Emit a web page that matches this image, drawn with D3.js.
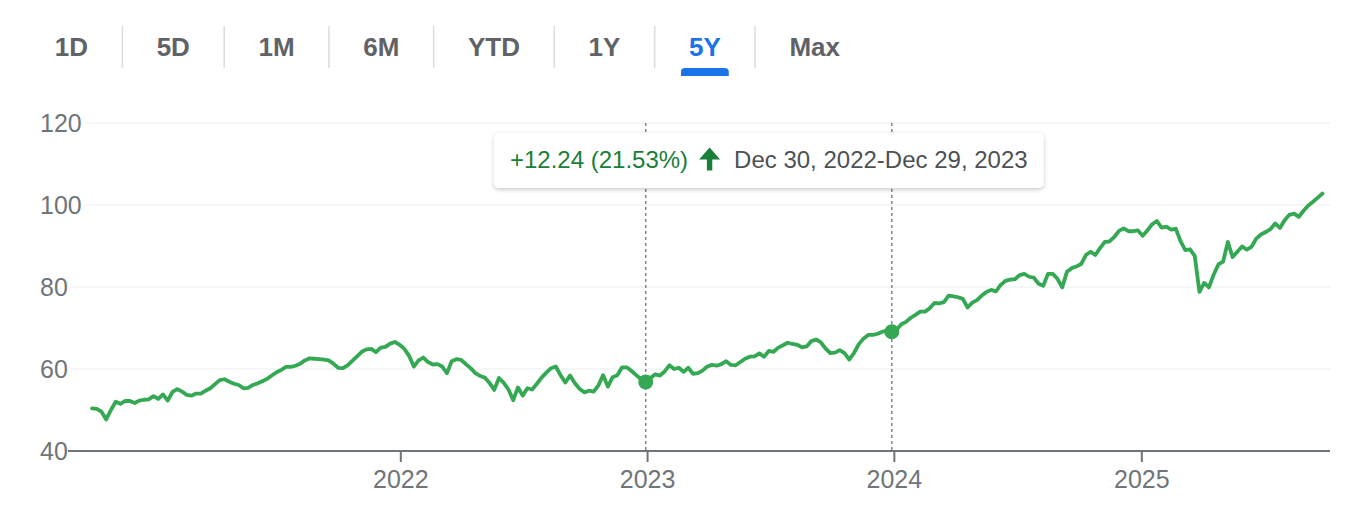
<!DOCTYPE html>
<html>
<head>
<meta charset="utf-8">
<script src="https://cdn.jsdelivr.net/npm/d3@7"></script>
<style>
  body { margin: 0; background: #fff; }
  svg { display: block; font-family: Arial, "Liberation Sans", sans-serif; }
</style>
</head>
<body>
<div id="chart"></div>
<script>
// range tabs
var tabs = ["1D", "5D", "1M", "6M", "YTD", "1Y", "5Y", "Max"];
var activeTab = "5Y";

// axes
var yTicks = [40, 60, 80, 100, 120];
var xTickYears = [2022, 2023, 2024, 2025];

// weekly closes (Fridays), first one on this date
var firstClose = "2020-10-02";
var weeklyClose = [
  50.4, 50.3, 49.6, 47.7, 50.0, 52.0, 51.5, 52.2, 52.2, 51.7,
  52.3, 52.5, 52.6, 53.4, 52.7, 53.8, 52.3, 54.4, 55.1, 54.5,
  53.7, 53.5, 54.0, 54.0, 54.7, 55.3, 56.3, 57.3, 57.5, 56.9,
  56.4, 56.1, 55.3, 55.4, 56.1, 56.5, 57.0, 57.6, 58.4, 59.2,
  59.8, 60.5, 60.5, 60.8, 61.3, 62.1, 62.6, 62.5, 62.4, 62.3,
  62.1, 61.3, 60.3, 60.2, 60.9, 62.0, 63.1, 64.2, 64.8, 64.9,
  64.1, 65.2, 65.4, 66.2, 66.6, 65.9, 64.9, 63.2, 60.6, 62.1,
  62.8, 61.7, 61.1, 61.2, 60.6, 59.0, 61.9, 62.4, 62.2, 61.2,
  60.2, 59.0, 58.3, 57.9, 56.6, 54.9, 57.8, 56.6, 55.0, 52.4,
  55.5, 53.5, 55.3, 55.0, 56.4, 57.9, 59.1, 60.2, 60.6, 58.5,
  56.7, 58.4, 56.6, 55.2, 54.3, 54.7, 54.5, 56.0, 58.5, 55.7,
  58.0, 58.5, 60.4, 60.4, 59.5, 58.5, 57.5, 56.85, 57.8, 58.7,
  58.4, 59.4, 60.9, 60.0, 60.3, 59.3, 60.3, 58.8, 59.0, 59.6,
  60.6, 61.0, 60.8, 61.2, 61.9, 61.0, 60.9, 61.7, 62.5, 63.0,
  63.1, 63.8, 63.0, 64.4, 64.2, 65.2, 65.8, 66.4, 66.1, 65.9,
  65.3, 65.5, 66.8, 67.2, 66.5, 65.0, 63.9, 64.0, 64.6, 63.9,
  62.3, 63.9, 66.0, 67.4, 68.3, 68.3, 68.6, 69.1, 69.3, 69.09,
  69.6, 70.9, 71.5, 72.5, 73.2, 74.0, 74.0, 74.8, 76.1, 76.0,
  76.3, 77.9, 77.7, 77.5, 77.1, 75.0, 76.2, 76.8, 77.9, 78.8,
  79.3, 78.9, 80.5, 81.5, 81.8, 81.9, 82.9, 83.2, 82.5, 82.3,
  80.8, 80.3, 83.2, 83.2, 82.0, 79.9, 83.7, 84.6, 85.0, 85.6,
  87.8, 88.6, 87.8, 89.5, 91.0, 91.1, 92.2, 93.7, 94.3, 93.6,
  93.6, 93.8, 92.5, 93.8, 95.3, 96.1, 94.5, 94.7, 94.0, 94.2,
  91.2, 89.0, 89.2, 87.6, 78.8, 81.0, 79.9, 83.0, 85.5, 86.2,
  91.0, 87.3, 88.6, 89.9, 89.1, 89.8, 91.8, 92.8, 93.4, 94.1,
  95.5, 94.4, 96.3, 97.6, 97.9, 97.1, 98.6, 99.9, 100.8, 101.8, 102.8
];

// selected range shown in the tooltip
var rangeStart = "2022-12-30";
var rangeEnd = "2023-12-29";
var rangeChange = "+12.24 (21.53%)";
var rangeLabel = "Dec 30, 2022-Dec 29, 2023";

var W = 1357, H = 505;
var green = "#34a853";

var parse = d3.utcParse("%Y-%m-%d");
var t0 = parse(firstClose);
var data = weeklyClose.map(function(v, i) { return { date: d3.utcWeek.offset(t0, i), value: v }; });

var svg = d3.select("#chart").append("svg").attr("width", W).attr("height", H);

var defs = svg.append("defs");
var shadow = defs.append("filter").attr("id", "shadow")
  .attr("x", "-5%").attr("y", "-30%").attr("width", "110%").attr("height", "170%");
shadow.append("feDropShadow").attr("dx", 0).attr("dy", 1.5).attr("stdDeviation", 2.2)
  .attr("flood-color", "#000").attr("flood-opacity", 0.22);

// ---- tabs ----
var gTabs = svg.append("g");
var tabPad = 34.3, cursor = 20.5;
tabs.forEach(function(name, i) {
  var t = gTabs.append("text").text(name)
    .attr("y", 47).attr("dominant-baseline", "central")
    .attr("text-anchor", "middle")
    .style("font-size", "26px").style("font-weight", "bold")
    .attr("fill", name === activeTab ? "#1a73e8" : "#5f6368");
  var w = t.node().getComputedTextLength();
  var cx = cursor + tabPad + w / 2;
  t.attr("x", cx);
  if (name === activeTab) {
    var uw = w + 16, ux = cx - uw / 2;
    gTabs.append("path")
      .attr("d", "M" + ux + ",76 L" + ux + ",72 Q" + ux + ",68 " + (ux + 4) + ",68 L" + (ux + uw - 4) + ",68 Q" + (ux + uw) + ",68 " + (ux + uw) + ",72 L" + (ux + uw) + ",76 Z")
      .attr("fill", "#1a73e8");
  }
  cursor += w + 2 * tabPad;
  if (i < tabs.length - 1) {
    gTabs.append("line").attr("x1", cursor).attr("x2", cursor).attr("y1", 26).attr("y2", 68)
      .attr("stroke", "#dadce0").attr("stroke-width", 1.5);
  }
});

// ---- scales ----
var plotRight = 1330;
var x = d3.scaleUtc()
  .domain(d3.extent(data, function(d) { return d.date; }))
  .range([92, 1322.5]);
var y = d3.scaleLinear().domain([40, 120]).range([451, 123]);

// ---- y labels and grid ----
var gY = svg.append("g");
yTicks.forEach(function(v) {
  var t = gY.append("text").text(v)
    .attr("x", 40).attr("y", y(v)).attr("dominant-baseline", "central")
    .style("font-size", "25px").attr("fill", "#70757a");
  var w = t.node().getComputedTextLength();
  if (v !== 40) {
    gY.insert("line", "text").attr("x1", 40 + w + 3).attr("x2", plotRight)
      .attr("y1", y(v)).attr("y2", y(v))
      .attr("stroke", "#f1f3f4").attr("stroke-width", 1.5);
  }
});

// ---- range markers (dashed) ----
var dStart = parse(rangeStart), dEnd = parse(rangeEnd);
var pStart = data.find(function(d) { return +d.date === +dStart; });
var pEnd = data.find(function(d) { return +d.date === +dEnd; });
svg.selectAll(".rangeLine").data([pStart, pEnd]).enter().append("line")
  .attr("class", "rangeLine")
  .attr("x1", function(d) { return x(d.date); }).attr("x2", function(d) { return x(d.date); })
  .attr("y1", y(120)).attr("y2", y(40))
  .attr("stroke", "#80868b").attr("stroke-width", 1.5).attr("stroke-dasharray", "3,3");

// ---- x axis ----
svg.append("line").attr("x1", 68).attr("x2", plotRight).attr("y1", y(40)).attr("y2", y(40))
  .attr("stroke", "#70757a").attr("stroke-width", 2);
var xAxis = d3.axisBottom(x)
  .tickValues(xTickYears.map(function(yr) { return new Date(Date.UTC(yr, 0, 1)); }))
  .tickFormat(d3.utcFormat("%Y"))
  .tickSize(11).tickSizeOuter(0).tickPadding(8);
var gX = svg.append("g").attr("transform", "translate(0," + y(40) + ")").call(xAxis);
gX.select(".domain").remove();
gX.selectAll(".tick line").attr("stroke", "#70757a").attr("stroke-width", 2);
gX.selectAll(".tick text").attr("fill", "#70757a")
  .style("font-size", "25px").style("font-family", "Arial, 'Liberation Sans', sans-serif");

// ---- price line ----
var line = d3.line()
  .x(function(d) { return x(d.date); })
  .y(function(d) { return y(d.value); });
svg.append("path").datum(data)
  .attr("d", line)
  .attr("fill", "none").attr("stroke", green).attr("stroke-width", 3.8)
  .attr("stroke-linejoin", "round").attr("stroke-linecap", "round");

svg.selectAll(".dot").data([pStart, pEnd]).enter().append("circle")
  .attr("class", "dot")
  .attr("cx", function(d) { return x(d.date); })
  .attr("cy", function(d) { return y(d.value); })
  .attr("r", 7.5).attr("fill", green);

// ---- tooltip ----
var tip = svg.append("g");
var box = tip.append("rect").attr("rx", 5).attr("fill", "#fff").attr("filter", "url(#shadow)");
var tChange = tip.append("text").text(rangeChange)
  .attr("y", 0).attr("dominant-baseline", "central")
  .style("font-size", "24px").attr("fill", "#188038");
var wChange = tChange.node().getComputedTextLength();
var arrowX = wChange + 11;
var arrow = tip.append("path")
  .attr("d", "M" + (arrowX + 10.5) + ",-12 L" + (arrowX + 21) + ",0 L" + (arrowX + 13.2) + ",0 L" + (arrowX + 13.2) + ",11 L" + (arrowX + 7.8) + ",11 L" + (arrowX + 7.8) + ",0 L" + arrowX + ",0 Z")
  .attr("fill", "#188038");
var tDate = tip.append("text").text(rangeLabel)
  .attr("x", arrowX + 35).attr("y", 0).attr("dominant-baseline", "central")
  .style("font-size", "24px").attr("fill", "#4d5156");
var contentW = arrowX + 35 + tDate.node().getComputedTextLength();
var padX = 16, boxW = contentW + 2 * padX, boxH = 55;
var midX = (x(pStart.date) + x(pEnd.date)) / 2;
var boxX = midX - boxW / 2, boxY = 133;
box.attr("x", -padX).attr("y", -boxH / 2 + 1).attr("width", boxW).attr("height", boxH);
tip.attr("transform", "translate(" + (boxX + padX) + "," + (boxY + boxH / 2 - 1) + ")");
</script>
</body>
</html>
